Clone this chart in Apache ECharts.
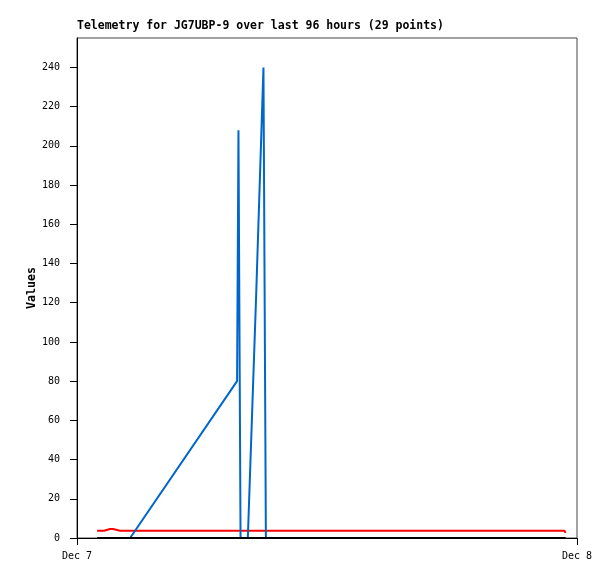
<!DOCTYPE html>
<html>
<head>
<meta charset="utf-8">
<script src="https://cdn.jsdelivr.net/npm/echarts@6/dist/echarts.min.js"></script>
<style>
html,body{margin:0;padding:0;background:#fff;}
#chart{width:615px;height:579px;}
</style>
</head>
<body>
<div id="chart"></div>
<script>
// Sample times (Dec 7, HH:MM)
const times = ["00:58","01:18","01:35","01:44","02:04","02:33","07:41","07:45","07:51","08:12","08:36","08:57","09:04","09:45","10:42","11:40","12:37","13:35","14:33","15:30","16:28","17:25","18:23","19:21","20:18","21:16","22:28","23:24","23:27"];
const blueValues = [0,0,0,0,0,0,80,208,0,0,124,240,0,0,0,0,0,0,0,0,0,0,0,0,0,0,0,0,0];
const redValues = [3.7,3.7,4.6,4.6,3.7,3.7,3.7,3.7,3.7,3.7,3.7,3.7,3.7,3.7,3.7,3.7,3.7,3.7,3.7,3.7,3.7,3.7,3.7,3.7,3.7,3.7,3.7,3.7,2.6];
const blackValues = [0,0,0,0,0,0,0,0,0,0,0,0,0,0,0,0,0,0,0,0,0,0,0,0,0,0,0,0,0];
const yTicks = [0,20,40,60,80,100,120,140,160,180,200,220,240];
const xTickLabels = {0: "Dec 7", 24: "Dec 8"};

const hours = times.map(t => { const [h,m] = t.split(":").map(Number); return h + m/60; });
const pairs = vals => hours.map((h,i) => [h, vals[i]]);

const font = "DejaVu Sans Mono";
const chart = echarts.init(document.getElementById('chart'), null, {renderer:'canvas'});
chart.setOption({
  animation: false,
  backgroundColor: '#fff',
  title: {
    text: 'Telemetry for JG7UBP-9 over last 96 hours (29 points)',
    left: 77, top: 20, padding: 0,
    textStyle: {fontFamily: font, fontWeight: 'bold', fontSize: 11.5, color: '#000'}
  },
  grid: {left: 77, right: 38, top: 38, bottom: 41, show: true, borderColor: '#444', borderWidth: 1},
  xAxis: {
    type: 'value', min: 0, max: 24, interval: 24,
    axisLine: {show: true, lineStyle: {color: '#000', width: 1}},
    axisTick: {show: true, length: 7, lineStyle: {color: '#000'}},
    axisLabel: {color: '#000', fontFamily: font, fontSize: 10, margin: 13,
      formatter: v => xTickLabels[v] || ''},
    splitLine: {show: false}
  },
  yAxis: {
    type: 'value', min: 0, max: 255,
    name: 'Values', nameLocation: 'middle', nameGap: 39, nameMoveOverlap: false,
    nameTextStyle: {fontFamily: font, fontWeight: 'bold', fontSize: 11.6, color: '#000'},
    axisLine: {show: true, lineStyle: {color: '#000', width: 1}},
    axisTick: {show: true, length: 7, customValues: yTicks, lineStyle: {color: '#000'}},
    axisLabel: {color: '#000', fontFamily: font, fontSize: 10, margin: 17, customValues: yTicks},
    splitLine: {show: false}
  },
  series: [
    {type: 'line', data: pairs(redValues), showSymbol: false, z: 2,
     lineStyle: {color: '#ff0000', width: 2}, itemStyle: {color: '#ff0000'}},
    {type: 'line', data: pairs(blueValues), showSymbol: false, z: 3,
     lineStyle: {color: '#0066cc', width: 2}, itemStyle: {color: '#0066cc'}},
    {type: 'line', data: pairs(blackValues), showSymbol: false, z: 4,
     lineStyle: {color: '#000000', width: 2}, itemStyle: {color: '#000'}}
  ]
});
</script>
</body>
</html>
